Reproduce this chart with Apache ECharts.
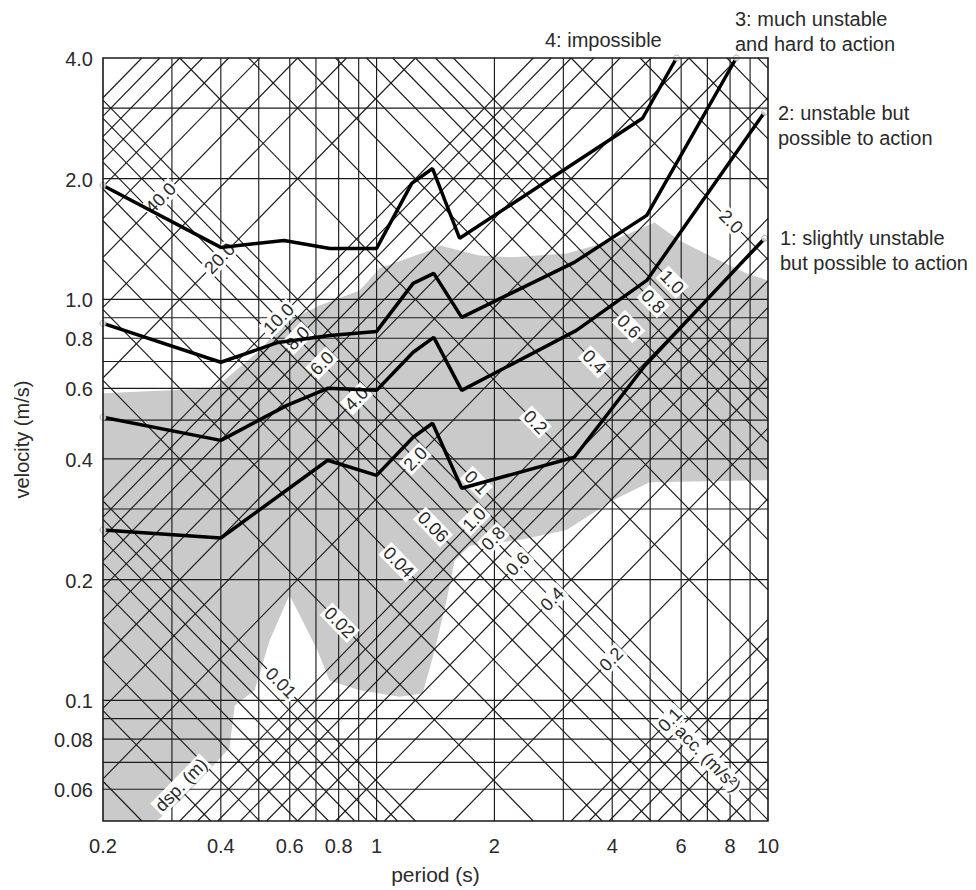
<!DOCTYPE html>
<html>
<head>
<meta charset="utf-8">
<title>Motion stability vs. period and velocity</title>
<script src="https://cdn.jsdelivr.net/npm/echarts@6/dist/echarts.min.js"></script>
<style>
html, body { margin: 0; padding: 0; background: #fff; }
#chart { width: 976px; height: 890px; }
</style>
</head>
<body>
<div id="chart"></div>
<script>
// ---- axes ----------------------------------------------------------------
const periodMin = 0.2, periodMax = 10;
const velocityMin = 0.05, velocityMax = 4;
const periodTicks = [0.2, 0.4, 0.6, 0.8, 1, 2, 4, 6, 8, 10];
const periodTickText = ['0.2', '0.4', '0.6', '0.8', '1', '2', '4', '6', '8', '10'];
const velocityTicks = [4, 2, 1, 0.8, 0.6, 0.4, 0.2, 0.1, 0.08, 0.06];
const velocityTickText = ['4.0', '2.0', '1.0', '0.8', '0.6', '0.4', '0.2', '0.1', '0.08', '0.06'];
const periodGridLines = [0.3, 0.4, 0.5, 0.6, 0.7, 0.8, 0.9, 1, 2, 3, 4, 5, 6, 7, 8, 9];
const velocityGridLines = [0.06, 0.07, 0.08, 0.09, 0.1, 0.2, 0.3, 0.4, 0.5, 0.6, 0.7, 0.8, 0.9, 1, 2, 3];

// constant displacement (m) and constant acceleration (m/s²) lines
const displacementLines = [0.002, 0.003, 0.004, 0.005, 0.006, 0.007, 0.008, 0.009,
  0.01, 0.02, 0.03, 0.04, 0.05, 0.06, 0.07, 0.08, 0.09,
  0.1, 0.2, 0.3, 0.4, 0.5, 0.6, 0.7, 0.8, 0.9, 1, 2, 3, 4, 5, 6];
const accelerationLines = [0.04, 0.05, 0.06, 0.07, 0.08, 0.09,
  0.1, 0.2, 0.3, 0.4, 0.5, 0.6, 0.7, 0.8, 0.9, 1, 2, 3, 4, 5, 6, 7, 8, 9,
  10, 20, 30, 40, 50, 60, 70, 80, 90, 100];

const displacementLabelValues = [0.01, 0.02, 0.04, 0.06, 0.1, 0.2, 0.4, 0.6, 0.8, 1.0, 2.0];
const displacementLabelText = ['0.01', '0.02', '0.04', '0.06', '0.1', '0.2', '0.4', '0.6', '0.8', '1.0', '2.0'];
const accelerationLabelValues = [40, 20, 10, 8, 6, 4, 2, 1, 0.8, 0.6, 0.4, 0.2, 0.1];
const accelerationLabelText = ['40.0', '20.0', '10.0', '8.0', '6.0', '4.0', '2.0', '1.0', '0.8', '0.6', '0.4', '0.2', '0.1'];

// ---- stability limits ----------------------------------------------------
const level1Period   = [0.2, 0.4, 0.75, 1.0, 1.24, 1.39, 1.65, 3.2, 4.85, 9.8];
const level1Velocity = [0.266, 0.254, 0.397, 0.364, 0.453, 0.491, 0.338, 0.404, 0.684, 1.42];
const level2Period   = [0.2, 0.4, 0.59, 0.75, 1.0, 1.24, 1.4, 1.65, 3.24, 4.9, 9.8];
const level2Velocity = [0.508, 0.445, 0.544, 0.600, 0.593, 0.738, 0.804, 0.593, 0.837, 1.115, 2.93];
const level3Period   = [0.2, 0.4, 0.56, 0.76, 1.0, 1.24, 1.4, 1.65, 3.2, 4.9, 8.3];
const level3Velocity = [0.871, 0.697, 0.781, 0.813, 0.832, 1.096, 1.161, 0.902, 1.237, 1.62, 4.0];
const level4Period   = [0.2, 0.4, 0.58, 0.76, 1.0, 1.23, 1.39, 1.63, 4.78, 5.84];
const level4Velocity = [1.924, 1.348, 1.403, 1.34, 1.34, 1.947, 2.12, 1.42, 2.83, 4.0];

// ---- shaded zone outline -------------------------------------------------
const zonePeriod = [0.2, 0.386, 0.503, 0.582, 0.715, 0.905, 1.018, 1.366, 1.449, 1.833, 2.226,
  3.058, 4.008, 5.132, 5.944, 7.22, 8.818, 10, 10, 4.984, 4.008, 3.058, 2.319, 1.728, 1.582,
  1.51, 1.406, 1.311, 1.145, 0.905, 0.758, 0.707, 0.599, 0.533, 0.488, 0.434, 0.421, 0.368,
  0.314, 0.274, 0.2];
const zoneVelocity = [0.583, 0.600, 0.746, 0.876, 0.966, 1.053, 1.195, 1.325, 1.363, 1.287, 1.273,
  1.302, 1.403, 1.556, 1.403, 1.273, 1.161, 1.115, 0.354, 0.350, 0.315, 0.266, 0.251, 0.243, 0.223,
  0.178, 0.133, 0.104, 0.102, 0.106, 0.112, 0.133, 0.183, 0.141, 0.106, 0.097, 0.076, 0.066,
  0.056, 0.05, 0.05];

// label rows: displacement labels sit on an acceleration line, and vice versa
const DSP_ROW_ACC = 1.22;
const ACC_ROW_DSP = 0.08;

const TWO_PI = 2 * Math.PI;
const L = Math.log10;
const INK = '#2a2a2a';
const FONT = 'Liberation Sans, Arial, sans-serif';

// clip log-space line  log v = s*log T + c  to the plotting window
function clipLine(s, c) {
  const lx0 = L(periodMin), lx1 = L(periodMax), ly0 = L(velocityMin), ly1 = L(velocityMax);
  let a, b;
  if (s > 0) { a = ly0 - c; b = ly1 - c; } else { a = c - ly1; b = c - ly0; }
  const lo = Math.max(lx0, a), hi = Math.min(lx1, b);
  if (hi <= lo) return null;
  return [Math.pow(10, lo), Math.pow(10, s * lo + c), Math.pow(10, hi), Math.pow(10, s * hi + c)];
}

const gridSegments = [];
periodGridLines.forEach(t => gridSegments.push([t, velocityMin, t, velocityMax]));
velocityGridLines.forEach(v => gridSegments.push([periodMin, v, periodMax, v]));
displacementLines.forEach(d => { const s = clipLine(-1, L(TWO_PI * d)); if (s) gridSegments.push(s); });
accelerationLines.forEach(a => { const s = clipLine(1, L(a / TWO_PI)); if (s) gridSegments.push(s); });

// diagonal labels: [period, velocity, text, kind]
const diagLabels = [];
displacementLabelValues.forEach((d, i) => {
  diagLabels.push([TWO_PI * Math.sqrt(d / DSP_ROW_ACC), Math.sqrt(d * DSP_ROW_ACC), displacementLabelText[i], 'd']);
});
accelerationLabelValues.forEach((a, i) => {
  diagLabels.push([TWO_PI * Math.sqrt(ACC_ROW_DSP / a), Math.sqrt(ACC_ROW_DSP * a), accelerationLabelText[i], 'a']);
});
// captions of the two diagonal scales
(function () {
  const d = 0.0031, a = 0.064;
  diagLabels.push([TWO_PI * Math.sqrt(d / DSP_ROW_ACC), Math.sqrt(d * DSP_ROW_ACC), 'dsp. (m)', 'a']);
  diagLabels.push([TWO_PI * Math.sqrt(ACC_ROW_DSP / a), Math.sqrt(ACC_ROW_DSP * a), 'acc. (m/s²)', 'd']);
})();

function curve(p, v) { return p.map((t, i) => [t, v[i]]); }
const curves = [
  curve(level1Period, level1Velocity),
  curve(level2Period, level2Velocity),
  curve(level3Period, level3Velocity),
  curve(level4Period, level4Velocity)
];
const endPoints = [];
curves.forEach(c => { endPoints.push(c[0]); endPoints.push(c[c.length - 1]); });

const chart = echarts.init(document.getElementById('chart'), null, { renderer: 'svg' });

const series = [];

// shaded zone
series.push({
  type: 'custom', silent: true, z: 1,
  data: [[zonePeriod[0], zoneVelocity[0]]],
  renderItem: function (params, api) {
    const pts = zonePeriod.map((t, i) => api.coord([t, zoneVelocity[i]]));
    return { type: 'polygon', shape: { points: pts }, style: { fill: '#cacaca', stroke: null } };
  }
});

// grid: vertical, horizontal and both diagonal families
series.push({
  type: 'custom', silent: true, z: 2,
  dimensions: ['t1', 'v1', 't2', 'v2'],
  encode: { x: [0, 2], y: [1, 3] },
  data: gridSegments,
  renderItem: function (params, api) {
    const p1 = api.coord([api.value(0), api.value(1)]);
    const p2 = api.coord([api.value(2), api.value(3)]);
    return { type: 'line', shape: { x1: p1[0], y1: p1[1], x2: p2[0], y2: p2[1] },
      style: { stroke: '#1c1c1c', lineWidth: 1.15 } };
  }
});

// labels along the diagonal scales
series.push({
  type: 'custom', silent: true, z: 3,
  encode: { x: 0, y: 1 },
  data: diagLabels,
  renderItem: function (params, api) {
    const item = diagLabels[params.dataIndex];
    const t = item[0], v = item[1];
    const p = api.coord([t, v]);
    const q = item[3] === 'd' ? api.coord([t * 2, v / 2]) : api.coord([t * 2, v * 2]);
    const ang = Math.atan2(q[1] - p[1], q[0] - p[0]);
    return {
      type: 'text', x: p[0], y: p[1], rotation: -ang,
      style: { text: item[2], x: 0, y: 0, align: 'center', verticalAlign: 'middle',
        fill: INK, font: '18px ' + FONT, backgroundColor: '#fff', padding: [0, 2] }
    };
  }
});

// stability limit curves
curves.forEach((c, i) => {
  series.push({
    type: 'line', name: 'level' + (i + 1), data: c, symbol: 'none', silent: true, z: 5,
    lineStyle: { color: '#000', width: 3.5 }
  });
});

series.push({
  type: 'scatter', data: endPoints, symbol: 'circle', symbolSize: 6, z: 6, silent: true,
  itemStyle: { color: '#fff', borderColor: '#9a9a9a', borderWidth: 1 }
});

// period tick labels
series.push({
  type: 'custom', silent: true, z: 6,
  data: periodTicks.map(t => [t, velocityMin]),
  renderItem: function (params, api) {
    const p = api.coord([api.value(0), api.value(1)]);
    return { type: 'text', x: p[0], y: p[1] + 25,
      style: { text: periodTickText[params.dataIndex], align: 'center', verticalAlign: 'middle',
        fill: INK, font: '20px ' + FONT } };
  }
});

// velocity tick labels
series.push({
  type: 'custom', silent: true, z: 6,
  data: velocityTicks.map(v => [periodMin, v]),
  renderItem: function (params, api) {
    const p = api.coord([api.value(0), api.value(1)]);
    return { type: 'text', x: p[0] - 10, y: p[1] + 1,
      style: { text: velocityTickText[params.dataIndex], align: 'right', verticalAlign: 'middle',
        fill: INK, font: '20px ' + FONT } };
  }
});

// plot frame
series.push({
  type: 'custom', silent: true, z: 7,
  data: [[periodMin, velocityMin]],
  renderItem: function (params, api) {
    const a = api.coord([periodMin, velocityMax]);
    const b = api.coord([periodMax, velocityMin]);
    return { type: 'rect', shape: { x: a[0], y: a[1], width: b[0] - a[0], height: b[1] - a[1] },
      style: { fill: null, stroke: '#1a1a1a', lineWidth: 1.6 } };
  }
});

const option = {
  animation: false,
  backgroundColor: '#fff',
  grid: { left: 103, top: 58, width: 665, height: 763, containLabel: false, outerBoundsMode: 'none' },
  xAxis: {
    type: 'log', logBase: 10, min: periodMin, max: periodMax,
    name: 'period (s)', nameLocation: 'middle', nameGap: 43,
    nameTextStyle: { fontFamily: FONT, fontSize: 21, color: INK },
    axisLine: { show: false }, axisTick: { show: false }, axisLabel: { show: false },
    splitLine: { show: false }
  },
  yAxis: {
    type: 'log', logBase: 10, min: velocityMin, max: velocityMax,
    name: 'velocity (m/s)', nameLocation: 'middle', nameGap: 71,
    nameTextStyle: { fontFamily: FONT, fontSize: 20, color: INK },
    axisLine: { show: false }, axisTick: { show: false }, axisLabel: { show: false },
    splitLine: { show: false }
  },
  graphic: [
    { type: 'text', left: 545, top: 30, style: { text: '4: impossible', font: '20px ' + FONT, fill: INK } },
    { type: 'text', left: 735, top: 6, style: { text: '3: much unstable\nand hard to action', font: '20px ' + FONT, fill: INK, lineHeight: 25 } },
    { type: 'text', left: 778, top: 100, style: { text: '2: unstable but\npossible to action', font: '20px ' + FONT, fill: INK, lineHeight: 25 } },
    { type: 'text', left: 780, top: 225, style: { text: '1: slightly unstable\nbut possible to action', font: '20px ' + FONT, fill: INK, lineHeight: 25 } }
  ],
  series: series
};

chart.setOption(option);
</script>
</body>
</html>
